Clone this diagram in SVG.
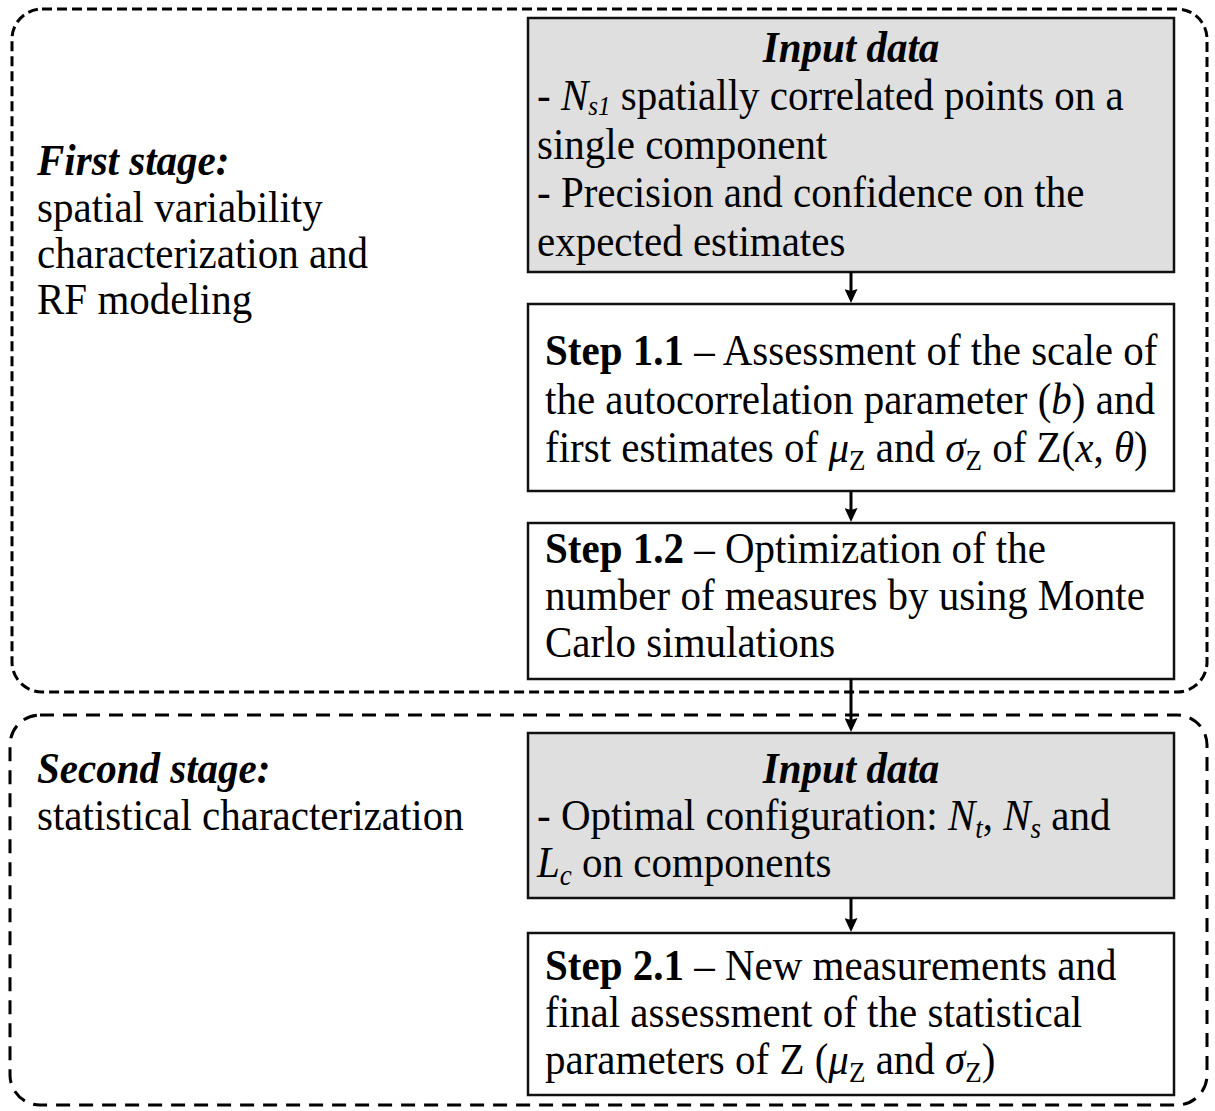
<svg xmlns="http://www.w3.org/2000/svg" width="1215" height="1111" viewBox="0 0 1215 1111">
<defs>
<style>
text{font-family:"Liberation Serif","Times New Roman",serif;font-size:41px;fill:#000}
.b{font-weight:bold}
.i{font-style:italic}
.bi{font-weight:bold;font-style:italic}
.sub{font-size:27px}
.box{stroke:#111;stroke-width:2.5}
.gray{fill:#dfdfdf}
.white{fill:#fff}
.stage{fill:none;stroke:#000;stroke-width:3}
.conn{stroke:#000;stroke-width:3;fill:none}
</style>
<marker id="ah" markerUnits="userSpaceOnUse" markerWidth="14" markerHeight="13" viewBox="0 0 14 13" refX="6" refY="6.5" orient="auto">
<path d="M0,0 L14,6.5 L0,13 L2,6.5 Z" fill="#000"/>
</marker>
</defs>
<rect width="1215" height="1111" fill="#fff"/>

<g id="stage1">
<rect class="stage" x="12" y="9" width="1195" height="683" rx="30" stroke-dasharray="10 5"/>
<text transform="translate(37,175) scale(1,1.08)" class="bi">First stage:</text>
<text transform="translate(37,222) scale(1,1.08)">spatial variability</text>
<text transform="translate(37,268) scale(1,1.08)">characterization and</text>
<text transform="translate(37,314) scale(1,1.08)">RF modeling</text>
</g>

<g id="stage2">
<rect class="stage" x="10" y="715" width="1197" height="390" rx="30" stroke-dasharray="14 9"/>
<text transform="translate(37,783) scale(1,1.08)" class="bi">Second stage:</text>
<text transform="translate(37,830) scale(1,1.08)">statistical characterization</text>
</g>

<g id="input1">
<rect class="box gray" x="528" y="18" width="646" height="254"/>
<text transform="translate(851,62) scale(1,1.08)" class="bi" text-anchor="middle">Input data</text>
<text transform="translate(537,110) scale(1,1.08)">- <tspan class="i">N</tspan><tspan class="i" font-size="25" dy="5">s1</tspan><tspan dy="-5"> spatially correlated points on a</tspan></text>
<text transform="translate(537,159) scale(1,1.08)">single component</text>
<text transform="translate(537,207) scale(1,1.08)">- Precision and confidence on the</text>
<text transform="translate(537,256) scale(1,1.08)">expected estimates</text>
</g>

<g id="step11">
<rect class="box white" x="528" y="304" width="646" height="187"/>
<text transform="translate(545,365) scale(1,1.08)"><tspan class="b">Step 1.1</tspan> – Assessment of the scale of</text>
<text transform="translate(545,414) scale(1,1.08)">the autocorrelation parameter (<tspan class="i">b</tspan>) and</text>
<text transform="translate(545,462) scale(1,1.08)">first estimates of <tspan class="i">μ</tspan><tspan class="sub" dy="7">Z</tspan><tspan dy="-7"> and </tspan><tspan class="i">σ</tspan><tspan class="sub" dy="7">Z</tspan><tspan dy="-7"> of Z(</tspan><tspan class="i">x</tspan>, <tspan class="i">θ</tspan>)</text>
</g>

<g id="step12">
<rect class="box white" x="528" y="523" width="646" height="156"/>
<text transform="translate(545,563) scale(1,1.08)"><tspan class="b">Step 1.2</tspan> – Optimization of the</text>
<text transform="translate(545,610) scale(1,1.08)">number of measures by using Monte</text>
<text transform="translate(545,657) scale(1,1.08)">Carlo simulations</text>
</g>

<g id="input2">
<rect class="box gray" x="528" y="733" width="646" height="165"/>
<text transform="translate(851,783) scale(1,1.08)" class="bi" text-anchor="middle">Input data</text>
<text transform="translate(537,830) scale(1,1.08)">- Optimal configuration: <tspan class="i">N</tspan><tspan class="i sub" dy="7">t</tspan><tspan dy="-7">, </tspan><tspan class="i">N</tspan><tspan class="i sub" dy="7">s</tspan><tspan dy="-7"> and</tspan></text>
<text transform="translate(537,877) scale(1,1.08)"><tspan class="i">L</tspan><tspan class="i sub" dy="7">c</tspan><tspan dy="-7"> on components</tspan></text>
</g>

<g id="step21">
<rect class="box white" x="528" y="933" width="646" height="162"/>
<text transform="translate(545,980) scale(1,1.08)"><tspan class="b">Step 2.1</tspan> – New measurements and</text>
<text transform="translate(545,1027) scale(1,1.08)">final assessment of the statistical</text>
<text transform="translate(545,1074) scale(1,1.08)">parameters of Z (<tspan class="i">μ</tspan><tspan class="sub" dy="7">Z</tspan><tspan dy="-7"> and </tspan><tspan class="i">σ</tspan><tspan class="sub" dy="7">Z</tspan><tspan dy="-7">)</tspan></text>
</g>

<g id="connectors">
<line class="conn" x1="851" y1="272" x2="851" y2="295" marker-end="url(#ah)"/>
<line class="conn" x1="851" y1="491" x2="851" y2="514" marker-end="url(#ah)"/>
<line class="conn" x1="851" y1="679" x2="851" y2="724" marker-end="url(#ah)"/>
<line class="conn" x1="851" y1="898" x2="851" y2="924" marker-end="url(#ah)"/>
</g>
</svg>
